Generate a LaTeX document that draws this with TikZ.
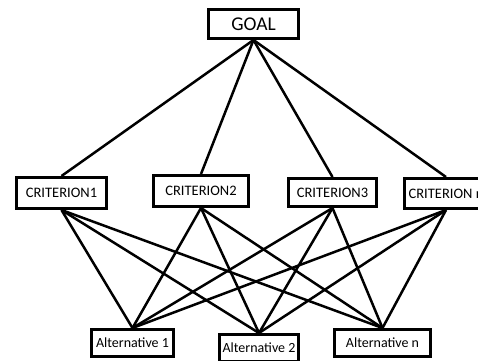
\documentclass[tikz,border=0pt]{standalone}
\usepackage{fontspec}
\setmainfont{Carlito}
\begin{document}
\begin{tikzpicture}[x=1pt,y=1pt,
        box/.style={draw,fill=white,line width=3pt,inner sep=2pt,
            font=\fontsize{14.5}{16}\selectfont},
        link/.style={line width=2.5pt}]
    \useasboundingbox (0,0) rectangle (478,360);
    % goal
    \node[box,minimum width=90,minimum height=29,
        font=\fontsize{19.5}{22}\selectfont] (goal) at (253.5,336) {GOAL};
    % criteria
    \node[box,minimum width=90,minimum height=31] (c1) at (61.5,167) {CRITERION1};
    \node[box,minimum width=95,minimum height=31] (c2) at (201,169) {CRITERION2};
    \node[box,minimum width=88,minimum height=28] (c3) at (332.5,167.5) {CRITERION3};
    \node[box,minimum width=83,minimum height=30] (cn) at (446,166.5) {CRITERION n};
    % alternatives
    \node[box,minimum width=82,minimum height=27,
        font=\fontsize{14}{16}\selectfont] (a1) at (132.5,17) {Alternative 1};
    \node[box,minimum width=79,minimum height=27,
        font=\fontsize{14}{16}\selectfont] (a2) at (259,12) {Alternative 2};
    \node[box,minimum width=96,minimum height=27,
        font=\fontsize{14}{16}\selectfont] (an) at (382.5,17) {Alternative n};
    \foreach \c in {c1,c2,c3,cn}
        \draw[link] (goal.south) -- (\c.north);
    \foreach \c in {c1,c2,c3,cn}
        \foreach \a in {a1,a2,an}
            \draw[link] (\c.south) -- (\a.north);
\end{tikzpicture}
\end{document}
